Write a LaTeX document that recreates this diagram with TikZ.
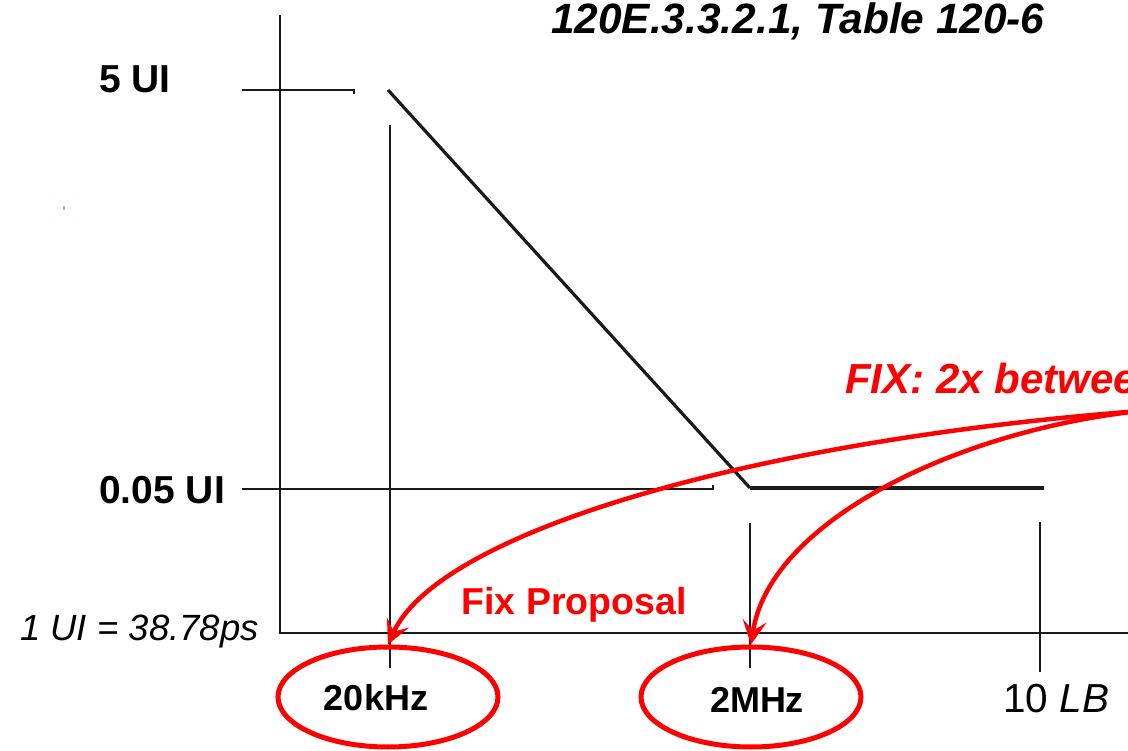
\documentclass[tikz,border=0pt]{standalone}
\usepackage{fontspec}
\setmainfont{Liberation Sans}
\usetikzlibrary{arrows.meta,shapes.geometric}
\definecolor{ink}{HTML}{1A1A1A}
\definecolor{fixred}{HTML}{FF0000}
\tikzset{
  axis/.style={draw=ink,line width=2.4pt},
  guide/.style={draw=ink,line width=2.2pt},
  mask/.style={draw=ink,line cap=butt,line join=miter},
  lbl/.style={inner sep=0pt,text=black,font=\fontsize{39}{41}\selectfont\bfseries},
  freq/.style={inner sep=0pt,text=black,font=\fontsize{36}{38}\selectfont\bfseries},
  ring/.style={draw=fixred,line width=5pt,ellipse,minimum width=220pt,minimum height=100pt,inner sep=0pt},
  callout/.style={draw=fixred,line width=4.5pt,-{Stealth[length=24pt,width=24pt,inset=10pt]}},
  note/.style={inner sep=0pt,text=fixred,font=\fontsize{37.5}{39}\selectfont\bfseries},
}
\begin{document}
\begin{tikzpicture}[x=1pt,y=-1pt]
\useasboundingbox (0,0) rectangle (1128,751);
\clip (0,0) rectangle (1128,751);
\fill[white] (0,0) rectangle (1128,751);

% axes
\coordinate (ytop) at (280,15);
\coordinate (orig) at (280,633);
\coordinate (xend) at (1140,633);
\draw[axis] (ytop) -- (orig) -- (xend);

% level markers on the vertical axis
\coordinate (hiL) at (242,90);
\coordinate (hiR) at (354,90);
\draw[guide] (hiL) -- (hiR) -- ++(0,4);
\coordinate (loL) at (242,489);
\coordinate (loR) at (713,489);
\draw[guide] (loL) -- (loR) -- ++(0,-4);

% frequency guide lines
\coordinate (f1t) at (390,125); \coordinate (f1b) at (390,668);
\coordinate (f2t) at (750,523); \coordinate (f2b) at (750,668);
\coordinate (f3t) at (1040,522); \coordinate (f3b) at (1040,672);
\draw[guide] (f1t) -- (f1b);
\draw[guide] (f2t) -- (f2b);
\draw[guide] (f3t) -- (f3b);

% mask curve
\coordinate (m0) at (388,90);
\coordinate (m1) at (750,488);
\coordinate (m2) at (1044,488);
\draw[mask,line width=3.2pt] (m0) -- (m1);
\draw[mask,line width=4.5pt] (m1) -- (m2);

% axis labels
\node[lbl,anchor=west] (l5) at (99,79) {5 UI};
\node[lbl,anchor=west] (l005) at (99,490) {0.05 UI};
\node[inner sep=0pt,anchor=west,font=\fontsize{36.5}{38}\selectfont\itshape] (ui) at (20,632) {1 UI = 38.78ps};
\node[inner sep=0pt,anchor=west,font=\fontsize{40.5}{42}\selectfont] (lb) at (1003,699) {10 \textit{LB}};
\node[inner sep=0pt,anchor=west,font=\fontsize{42.4}{44}\selectfont\bfseries\itshape] (ttl) at (551,21) {120E.3.3.2.1, Table 120-6};

% red highlights
\node[ring] (e1) at (388,697) {};
\node[ring] (e2) at (751,697) {};
\node[freq] (t1) at (376,698) {20kHz};
\node[freq] (t2) at (757,700) {2MHz};
\node[note] (fp) at (574,605) {Fix Proposal};
\node[note,anchor=west,font=\fontsize{42}{44}\selectfont\bfseries\itshape] (fix) at (845,378) {FIX: 2x betwee};

\coordinate (src) at (1140,411);
\draw[callout] (src) .. controls (760,440) and (440,530) .. (e1.north);
\draw[callout] (src) .. controls (960,430) and (770,520) .. (e2.north);

% stray speck
\fill[blue!35] (63,206) rectangle (65,210);
\end{tikzpicture}
\end{document}
